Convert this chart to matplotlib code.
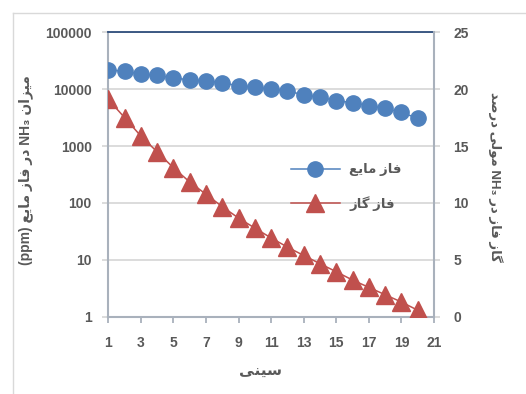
import numpy as np
import matplotlib
matplotlib.use("Agg")
import matplotlib.pyplot as plt
from matplotlib.lines import Line2D
from matplotlib.ticker import FixedLocator, FuncFormatter, NullLocator

# data
trays = [1, 2, 3, 4, 5, 6, 7, 8, 9, 10, 11, 12, 13, 14, 15, 16, 17, 18, 19, 20]
liquid_ppm = [22000, 20500, 18450, 17400, 15700, 14600, 14000, 12900, 11500, 10850,
              10000, 9330, 7930, 7220, 6280, 5790, 5120, 4600, 3910, 3070]
gas_mol_pct = [19.10, 17.50, 15.88, 14.49, 13.09, 11.84, 10.76, 9.67, 8.67, 7.79,
               6.92, 6.12, 5.38, 4.66, 3.95, 3.22, 2.58, 1.93, 1.29, 0.57]

x_ticks = [1, 3, 5, 7, 9, 11, 13, 15, 17, 19, 21]
left_ticks = [1, 10, 100, 1000, 10000, 100000]
right_ticks = [0, 5, 10, 15, 20, 25]

label_x = "سینی"
label_liquid = "فاز مایع"
label_gas = "فاز گاز"
label_left = "میزان NH₃ در فاز مایع (ppm)"
label_right = "درصد مولی NH₃ در فاز گاز"

# persian shaping by hand (matplotlib has no arabic shaping / bidi)
FORMS = {
    'ا': ('\uFE8D', '\uFE8E', None, None),
    'د': ('\uFEA9', '\uFEAA', None, None),
    'ر': ('\uFEAD', '\uFEAE', None, None),
    'ز': ('\uFEAF', '\uFEB0', None, None),
    'و': ('\uFEED', '\uFEEE', None, None),
    'س': ('\uFEB1', '\uFEB2', '\uFEB3', '\uFEB4'),
    'ص': ('\uFEB9', '\uFEBA', '\uFEBB', '\uFEBC'),
    'ع': ('\uFEC9', '\uFECA', '\uFECB', '\uFECC'),
    'ف': ('\uFED1', '\uFED2', '\uFED3', '\uFED4'),
    'ل': ('\uFEDD', '\uFEDE', '\uFEDF', '\uFEE0'),
    'م': ('\uFEE1', '\uFEE2', '\uFEE3', '\uFEE4'),
    'ن': ('\uFEE5', '\uFEE6', '\uFEE7', '\uFEE8'),
    'ی': ('\uFBFC', '\uFBFD', '\uFBFE', '\uFBFF'),
    'گ': ('\uFB92', '\uFB93', '\uFB94', '\uFB95'),
}


def shape_word(w):
    out = []
    for i, c in enumerate(w):
        if c not in FORMS:
            out.append(c)
            continue
        prev = w[i - 1] if i > 0 else None
        nxt = w[i + 1] if i < len(w) - 1 else None
        jp = prev in FORMS and FORMS[prev][2] is not None
        jn = nxt in FORMS and FORMS[c][2] is not None
        iso, fin, ini, med = FORMS[c]
        if jp and jn:
            out.append(med)
        elif jp:
            out.append(fin)
        elif jn:
            out.append(ini)
        else:
            out.append(iso)
    return ''.join(out[::-1])


def fa(text, reverse_words=True):
    words = []
    for w in text.split(' '):
        if any(c in FORMS for c in w):
            words.append(shape_word(w))
        else:
            words.append(w)
    if reverse_words:
        words = words[::-1]
    return ' '.join(words)


FONT = ['Liberation Sans', 'DejaVu Sans']
TXT = '#595959'
BLUE = '#4F81BD'
RED = '#C0504D'
GRID = '#D9D9D9'
AXC = '#A9B1BC'

plt.rcParams['font.family'] = FONT

fig = plt.figure(figsize=(5.26, 3.94), dpi=100)
ax = fig.add_axes([108.3 / 526, 1 - 316.7 / 394, 325.7 / 526, 284.4 / 394])
ax2 = ax.twinx()

# outer chart border
fig.add_artist(Line2D([13 / 526, 1], [1 - 13 / 394] * 2, transform=fig.transFigure, color=GRID, lw=1))
fig.add_artist(Line2D([13 / 526] * 2, [0, 1 - 13 / 394], transform=fig.transFigure, color=GRID, lw=1))

l1, = ax.plot(trays, liquid_ppm, color=BLUE, lw=1.1, marker='o', ms=11, mec=BLUE, mfc=BLUE, zorder=3)
l2, = ax2.plot(trays, gas_mol_pct, color=RED, lw=1.1, marker='^', ms=12.5, mec=RED, mfc=RED, zorder=3)

ax.set_yscale('log')
ax.set_ylim(1, 100000)
ax.set_xlim(1, 21)
ax2.set_ylim(0, 25)

ax.yaxis.set_major_locator(FixedLocator(left_ticks))
ax.yaxis.set_minor_locator(NullLocator())
ax.yaxis.set_major_formatter(FuncFormatter(lambda v, p: f"{int(round(v))}"))
ax.xaxis.set_major_locator(FixedLocator(x_ticks))
ax2.yaxis.set_major_locator(FixedLocator(right_ticks))

ax.yaxis.grid(True, color=GRID, lw=1.3)
ax.set_axisbelow(True)

for s in ['left', 'bottom']:
    ax.spines[s].set_color(AXC)
    ax.spines[s].set_linewidth(1.5)
ax.spines['top'].set_color('#2E4D7B')
ax.spines['top'].set_linewidth(1.3)
ax.spines['right'].set_visible(False)
for s in ['left', 'bottom', 'top']:
    ax2.spines[s].set_visible(False)
ax2.spines['right'].set_color(AXC)
ax2.spines['right'].set_linewidth(1.5)

tick_font = dict(family=FONT, weight='bold', size=10)
ax.tick_params(axis='y', which='major', length=4, width=1.3, color=GRID, pad=8, labelcolor=TXT)
ax.tick_params(axis='x', length=4, width=1.3, color=AXC, pad=10, labelcolor=TXT)
ax2.tick_params(axis='y', length=4, width=1.3, color=GRID, pad=10, labelcolor=TXT)
for lab in ax.get_xticklabels() + ax.get_yticklabels() + ax2.get_yticklabels():
    lab.set_fontproperties(matplotlib.font_manager.FontProperties(**tick_font))

ax.set_ylabel(fa(label_left), family=FONT, weight='bold', size=10, color=TXT)
ax.yaxis.set_label_coords(-0.23, 0.517)
ax2.set_ylabel(fa(label_right, reverse_words=False), family=FONT, weight='bold', size=9.5,
               color=TXT, rotation=270, va='center')
ax2.yaxis.set_label_coords(1.19, 0.49)
ax.set_xlabel(fa(label_x), family=FONT, weight='bold', size=11, color=TXT)
ax.xaxis.set_label_coords(0.466, -0.17)

leg = ax2.legend([l1, l2], [fa(label_liquid), fa(label_gas)], loc='upper left',
                 bbox_to_anchor=(0.561, 0.54), frameon=False, borderpad=0, borderaxespad=0,
                 handlelength=3.7, handletextpad=0.7, labelspacing=1.5,
                 prop=dict(family=FONT, weight='bold', size=9.5))
for t in leg.get_texts():
    t.set_color(TXT)

fig.savefig("out.png", dpi=100)
